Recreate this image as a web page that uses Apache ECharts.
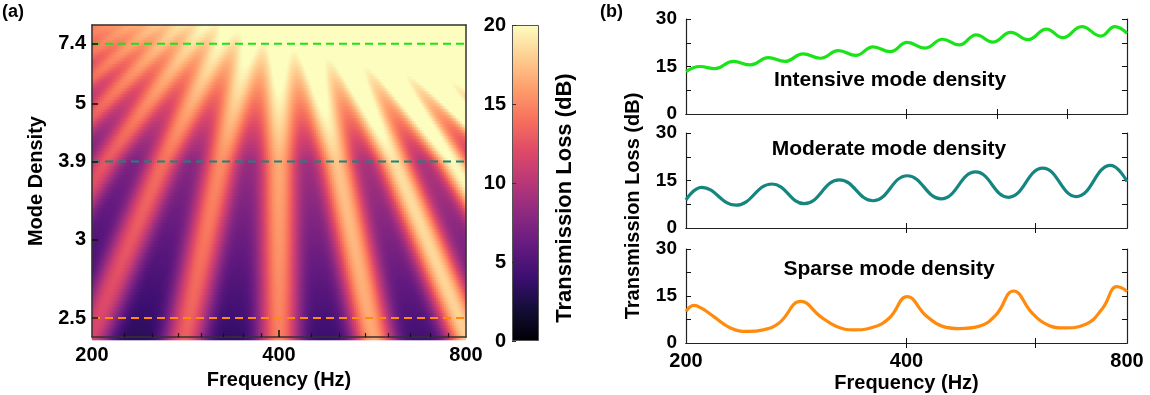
<!DOCTYPE html>
<html><head><meta charset="utf-8">
<script src="https://cdn.jsdelivr.net/npm/echarts@6/dist/echarts.min.js"></script>
<style>html,body{margin:0;padding:0;background:#fff}#c{width:1150px;height:395px}</style>
</head><body><div id="c"></div>
<script>
// ---------------- data ----------------
const freqTicks = [200, 400, 800];
const heatMinorTicks = [225, 250, 275, 300, 325, 350, 375, 450, 500, 550, 600, 650, 700, 750];
const densityLabels = ['2.5', '3', '3.9', '5', '7.4'];
const densityLevels = [0.061, 0.312, 0.563, 0.749, 0.940];   // place of each density label on the map's vertical scale
const tlTicks = [0, 5, 10, 15, 20];

// transmission-loss map (a): three measured rows (sparse, moderate, intensive)
const rowLevel = [0.061, 0.563, 0.940];
const rowPeakRatio = [1.40, 1.24, 1.115];      // frequency ratio between neighbouring peaks
const rowPeakShape = [1.8, 1.2, 1.0];          // peak sharpness
const envFreq = [200, 400, 800];
const rowPeakTL = [[11.7, 14.8, 18.2], [12.4, 16.5, 20.1], [14.5, 22.5, 28.0]];
const rowTroughTL = [[3.4, 4.3, 5.1], [6.8, 8.9, 10.1], [13.6, 20.2, 25.0]];
const ridgeAnchorHz = 400;

// curves (b)
const intensiveHz = [200, 209, 219, 232, 245, 259, 273, 289, 305, 323, 341, 360, 380, 401, 424, 448, 472, 498, 525, 555, 586, 621, 654, 694, 737, 770, 800];
const intensiveTL = [13.4, 15.0, 14.3, 16.6, 15.5, 17.8, 16.6, 19.0, 17.6, 20.0, 18.5, 21.2, 19.7, 22.6, 20.8, 23.6, 21.8, 25.0, 22.7, 25.8, 23.5, 26.8, 24.1, 27.6, 24.6, 27.6, 25.5];
const moderateHz = [200, 210, 234, 262, 290, 324, 360, 401, 446, 497, 551, 614, 682, 760, 800];
const moderateTL = [8.9, 12.8, 7.2, 13.9, 7.7, 15.2, 8.6, 16.5, 9.2, 17.7, 9.7, 18.9, 9.9, 19.8, 14.7];
const sparseHz = [200, 205, 210, 218, 230, 243, 255, 268, 287, 305, 321, 339, 360, 379, 401, 425, 448, 472, 502, 530, 560, 594, 626, 654, 703, 741, 775, 788, 800];
const sparseTL = [10.1, 12.0, 11.1, 8.5, 4.8, 3.7, 4.2, 6.4, 13.3, 8.5, 5.3, 4.2, 5.0, 8.0, 14.8, 8.8, 5.3, 4.6, 5.3, 9.0, 16.6, 9.5, 5.6, 4.8, 6.0, 11.1, 18.0, 17.5, 16.4];
const curveNames = ['Intensive mode density', 'Moderate mode density', 'Sparse mode density'];

// ---------------- build map table ----------------
const magma = ['#000004', '#140e36', '#3b0f70', '#641a80', '#8c2981', '#b73779', '#de4968', '#f7705c', '#fe9f6d', '#fecf92', '#fcfdbf'];
function across(vals, t) {
  const i = t < rowLevel[1] ? 0 : 1;
  return vals[i] + (vals[i + 1] - vals[i]) * (t - rowLevel[i]) / (rowLevel[i + 1] - rowLevel[i]);
}
function alongF(vals, f) {
  const x = Math.log2(f / envFreq[0]);
  const i = x < 1 ? 0 : 1;
  return vals[i] + (vals[i + 1] - vals[i]) * (x - i);
}
function tlAt(f, t) {
  const lnr = across(rowPeakRatio.map(Math.log), t);
  const p = across(rowPeakShape, t);
  const hi = across(rowPeakTL.map(r => alongF(r, f)), t);
  const lo = across(rowTroughTL.map(r => alongF(r, f)), t);
  const u = Math.log(f / ridgeAnchorHz) / lnr;
  const c = Math.cos(Math.PI * u);
  return lo + (hi - lo) * Math.pow(c * c, p);
}
const NX = 187, NY = 105;
const heatX = [], heatY = [], heatData = [];
for (let j = 0; j < NX; j++) heatX.push(200 * Math.pow(4, (j + 0.5) / NX));
for (let i = 0; i < NY; i++) heatY.push((i + 0.5) / NY);
for (let j = 0; j < NX; j++) for (let i = 0; i < NY; i++) {
  heatData.push([j, i, Math.max(0, Math.min(19.99, tlAt(heatX[j], heatY[i])))]);
}

// ---------------- chart ----------------
const FONT = 'Liberation Sans';
const txt = (size) => ({ fontFamily: FONT, fontWeight: 'bold', fontSize: size, color: '#000' });
const chart = echarts.init(document.getElementById('c'), null, { renderer: 'canvas' });

const grids = [
  { left: 92, top: 25, width: 374, height: 315 },
  { left: 92, top: 25, width: 374, height: 315 },
  { left: 512, top: 25, width: 27, height: 316 },
  { left: 686, top: 19, width: 441, height: 95 },
  { left: 686, top: 133, width: 441, height: 95 },
  { left: 686, top: 249, width: 441, height: 94 }
];
const frame = { show: true, lineStyle: { color: '#222', width: 1.2 } };
const xAxes = [], yAxes = [];
xAxes.push({ gridIndex: 0, type: 'category', data: heatX, show: false });
yAxes.push({ gridIndex: 0, type: 'category', data: heatY, show: false });
const logX = (gi, extra) => Object.assign({ gridIndex: gi, type: 'log', logBase: 2, min: 200, max: 800, splitLine: { show: false }, z: 10 }, extra);
xAxes.push(logX(1, {
  position: 'bottom', axisLine: { show: true, lineStyle: { color: '#333', width: 1.5 } },
  axisTick: { show: true, inside: true, length: 7, customValues: [400], lineStyle: { color: '#111', width: 1.5 } },
  axisLabel: { show: true, customValues: freqTicks, formatter: v => String(Math.round(v)), margin: 8, ...txt(20) },
  name: 'Frequency (Hz)', nameLocation: 'middle', nameGap: 31, nameTextStyle: txt(20)
}));
xAxes.push(logX(1, {
  position: 'bottom', axisLine: { show: false },
  axisTick: { show: true, inside: true, length: 4, customValues: heatMinorTicks, lineStyle: { color: '#111', width: 1.2 } },
  axisLabel: { show: false }
}));
xAxes.push(logX(1, { position: 'top', axisLine: { show: true, lineStyle: { color: '#333', width: 1.5 } }, axisTick: { show: false }, axisLabel: { show: false } }));
yAxes.push({
  gridIndex: 1, type: 'value', min: 0, max: 1, position: 'left', z: 10, splitLine: { show: false },
  axisLine: { show: true, lineStyle: { color: '#333', width: 1.5 } },
  axisTick: { show: true, inside: true, length: 6, customValues: densityLevels, lineStyle: { color: '#111', width: 1.5 } },
  axisLabel: {
    show: true, customValues: densityLevels, margin: 6, ...txt(20),
    formatter: v => { let b = 0; densityLevels.forEach((d, k) => { if (Math.abs(d - v) < Math.abs(densityLevels[b] - v)) b = k; }); return densityLabels[b]; }
  },
  name: 'Mode Density', nameLocation: 'middle', nameGap: 46, nameTextStyle: txt(20)
});
yAxes.push({ gridIndex: 1, type: 'value', min: 0, max: 1, position: 'right', z: 10, splitLine: { show: false }, axisLine: { show: true, lineStyle: { color: '#333', width: 1.5 } }, axisTick: { show: false }, axisLabel: { show: false } });
xAxes.push({ gridIndex: 2, type: 'category', data: ['cb'], show: false });
yAxes.push({
  gridIndex: 2, type: 'value', min: 0, max: 20, interval: 5, position: 'left', z: 10, splitLine: { show: false },
  axisLine: { show: false },
  axisTick: { show: true, inside: true, length: 4, lineStyle: { color: '#333', width: 1 } },
  axisLabel: { show: true, margin: 6, ...txt(20) }
});
const panelTicks = [[400, 532, 664], [400, 600], [400, 600]];
[3, 4, 5].forEach((gi, k) => {
  const last = k === 2;
  xAxes.push(logX(gi, {
    position: 'bottom', axisLine: frame,
    axisTick: { show: true, inside: true, length: 5, customValues: panelTicks[k], lineStyle: { color: '#111', width: 1 } },
    axisLabel: { show: last, customValues: freqTicks, formatter: v => String(Math.round(v)), margin: 8, ...txt(20) },
    name: last ? 'Frequency (Hz)' : '', nameLocation: 'middle', nameGap: 30, nameTextStyle: txt(20)
  }));
  xAxes.push(logX(gi, {
    position: 'top', axisLine: frame,
    axisTick: { show: true, inside: true, length: 5, customValues: panelTicks[k], lineStyle: { color: '#111', width: 1 } },
    axisLabel: { show: false }
  }));
  yAxes.push({
    gridIndex: gi, type: 'value', min: 0, max: 30, interval: 7.5, position: 'left', splitLine: { show: false },
    axisLine: frame, axisTick: { show: true, inside: true, length: 5, lineStyle: { color: '#111' } },
    axisLabel: { show: true, margin: 9, ...txt(19), formatter: v => (v % 15 === 0 ? String(v) : '') }
  });
  yAxes.push({
    gridIndex: gi, type: 'value', min: 0, max: 30, interval: 7.5, position: 'right', splitLine: { show: false },
    axisLine: frame, axisTick: { show: true, inside: true, length: 5, lineStyle: { color: '#111' } },
    axisLabel: { show: false }
  });
});

const green = '#18e418', teal = '#15857f', orange = '#ff8a0c';
const lvl = lab => densityLevels[densityLabels.indexOf(lab)];
const dashLine = (lab, color) => ({
  type: 'line', xAxisIndex: 1, yAxisIndex: 1, data: [[200, lvl(lab)], [800, lvl(lab)]], symbol: 'none', z: 5, silent: true,
  lineStyle: { color: color, width: 2, type: [8, 5] }
});
const curve = (xi, yi, hz, tl, color) => ({
  type: 'line', xAxisIndex: xi, yAxisIndex: yi, data: hz.map((f, i) => [f, tl[i]]), symbol: 'none', smooth: 0.45,
  lineStyle: { color: color, width: 3.2 }, silent: true, clip: true
});

const cbStops = magma.map((c, i) => ({ offset: i / (magma.length - 1), color: c }));

const option = {
  animation: false,
  backgroundColor: '#fff',
  grid: grids,
  xAxis: xAxes,
  yAxis: yAxes,
  visualMap: [{ type: 'continuous', show: false, min: 0, max: 20, dimension: 2, seriesIndex: 0, inRange: { color: magma } }],
  series: [
    { type: 'heatmap', xAxisIndex: 0, yAxisIndex: 0, data: heatData, progressive: 0, silent: true, emphasis: { disabled: true } },
    dashLine('7.4', green), dashLine('3.9', teal), dashLine('2.5', orange),
    {
      type: 'bar', xAxisIndex: 4, yAxisIndex: 3, data: [tlTicks[tlTicks.length - 1]], barWidth: '100%', silent: true,
      itemStyle: { color: new echarts.graphic.LinearGradient(0, 1, 0, 0, cbStops), borderColor: '#555', borderWidth: 1 }
    },
    curve(5, 4, intensiveHz, intensiveTL, green),
    curve(7, 6, moderateHz, moderateTL, teal),
    curve(9, 8, sparseHz, sparseTL, orange)
  ],
  graphic: [
    { type: 'text', left: 2, top: 3, style: { text: '(a)', font: 'bold 18px "Liberation Sans"', fill: '#000' } },
    { type: 'text', left: 600, top: 3, style: { text: '(b)', font: 'bold 18px "Liberation Sans"', fill: '#000' } },
    { type: 'text', x: 565, y: 198, rotation: Math.PI / 2, style: { text: 'Transmission Loss (dB)', font: 'bold 22px "Liberation Sans"', fill: '#000', align: 'center', verticalAlign: 'middle' } },
    { type: 'text', x: 633, y: 206, rotation: Math.PI / 2, style: { text: 'Transmission Loss (dB)', font: 'bold 20px "Liberation Sans"', fill: '#000', align: 'center', verticalAlign: 'middle' } },
    { type: 'text', x: 890, y: 80, style: { text: curveNames[0], font: 'bold 21px "Liberation Sans"', fill: '#000', align: 'center', verticalAlign: 'middle' } },
    { type: 'text', x: 889, y: 149, style: { text: curveNames[1], font: 'bold 21px "Liberation Sans"', fill: '#000', align: 'center', verticalAlign: 'middle' } },
    { type: 'text', x: 889, y: 269, style: { text: curveNames[2], font: 'bold 21px "Liberation Sans"', fill: '#000', align: 'center', verticalAlign: 'middle' } }
  ]
};
chart.setOption(option);
</script></body></html>
